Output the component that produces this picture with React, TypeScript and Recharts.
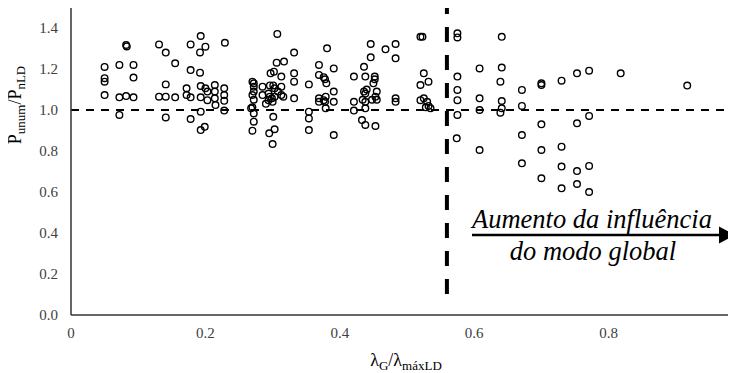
import React from "react";
import {
  ScatterChart,
  Scatter,
  XAxis,
  YAxis,
  ReferenceLine,
  Customized,
} from "recharts";

// λG/λmáxLD for each specimen
const lambdaRatio = [
  0.05, 0.05, 0.05, 0.05, 0.072, 0.082, 0.083, 0.072, 0.072, 0.082,
  0.093, 0.093, 0.093, 0.131, 0.141, 0.155, 0.141, 0.131, 0.141, 0.155,
  0.141, 0.172, 0.172, 0.178, 0.178, 0.193, 0.2, 0.192, 0.192, 0.193,
  0.178, 0.193, 0.2, 0.203, 0.214, 0.214, 0.214, 0.215, 0.203, 0.193,
  0.178, 0.193, 0.199, 0.228, 0.228, 0.228, 0.228, 0.229, 0.27, 0.272,
  0.27, 0.272, 0.27, 0.268, 0.272, 0.27, 0.272, 0.272, 0.272, 0.285,
  0.285, 0.307, 0.297, 0.302, 0.306, 0.317, 0.313, 0.296, 0.301, 0.303,
  0.308, 0.313, 0.313, 0.316, 0.294, 0.296, 0.299, 0.303, 0.294, 0.301,
  0.295, 0.303, 0.3, 0.29, 0.3, 0.332, 0.332, 0.332, 0.332, 0.354,
  0.354, 0.354, 0.354, 0.369, 0.381, 0.369, 0.376, 0.378, 0.38, 0.391,
  0.391, 0.369, 0.376, 0.379, 0.378, 0.369, 0.391, 0.379, 0.391, 0.421,
  0.436, 0.446, 0.446, 0.438, 0.452, 0.452, 0.45, 0.436, 0.44, 0.438,
  0.434, 0.438, 0.448, 0.455, 0.455, 0.453, 0.421, 0.421, 0.438, 0.433,
  0.438, 0.453, 0.468, 0.483, 0.483, 0.483, 0.483, 0.52, 0.523, 0.525,
  0.532, 0.52, 0.52, 0.525, 0.53, 0.532, 0.528, 0.535, 0.575, 0.575,
  0.575, 0.575, 0.575, 0.575, 0.574, 0.641, 0.608, 0.608, 0.608, 0.608,
  0.641, 0.639, 0.641, 0.641, 0.639, 0.671, 0.671, 0.671, 0.671, 0.7,
  0.7, 0.7, 0.7, 0.7, 0.73, 0.73, 0.73, 0.73, 0.753, 0.753,
  0.753, 0.753, 0.771, 0.771, 0.771, 0.771, 0.818, 0.917,
];

// Pu,num/Pn,LD for each specimen
const strengthRatio = [
  1.21, 1.155, 1.138, 1.073, 1.22, 1.317, 1.31, 1.062, 0.976, 1.068,
  1.22, 1.158, 1.062, 1.32, 1.28, 1.228, 1.125, 1.065, 1.065, 1.062,
  0.964, 1.106, 1.073, 1.32, 1.195, 1.361, 1.309, 1.281, 1.182, 1.117,
  1.062, 1.062, 1.106, 1.09, 1.122, 1.09, 1.057, 1.024, 1.048, 0.992,
  0.956, 0.902, 0.918, 1.106, 1.073, 1.045, 0.997, 1.328, 1.138, 1.13,
  1.073, 1.05, 1.013, 1.008, 0.943, 0.899, 1.114, 1.09, 0.983, 1.114,
  1.073, 1.371, 1.179, 1.187, 1.231, 1.236, 1.163, 1.12, 1.12, 1.106,
  1.09, 1.114, 1.073, 1.065, 1.08, 1.065, 1.057, 1.065, 1.048, 0.967,
  0.886, 0.906, 0.834, 1.03, 1.04, 1.28, 1.179, 1.138, 1.057, 1.125,
  0.992, 0.959, 0.902, 1.22, 1.301, 1.171, 1.16, 1.15, 1.13, 1.203,
  1.09, 1.057, 1.048, 1.065, 1.04, 1.04, 1.04, 1.008, 0.878, 1.163,
  1.211, 1.322, 1.257, 1.163, 1.163, 1.15, 1.13, 1.09, 1.1, 1.08,
  1.05, 1.04, 1.05, 1.09, 1.05, 1.065, 1.04, 0.997, 1.008, 0.951,
  0.927, 0.922, 1.296, 1.322, 1.252, 1.057, 1.04, 1.357, 1.357, 1.179,
  1.138, 1.122, 1.048, 1.057, 1.04, 1.02, 1.013, 1.008, 1.374, 1.354,
  1.163, 1.098, 1.048, 0.976, 0.862, 1.357, 1.203, 1.057, 1.0, 0.805,
  1.207, 1.138, 1.044, 1.008, 0.987, 1.098, 1.02, 0.878, 0.74, 1.13,
  1.122, 0.93, 0.805, 0.667, 1.143, 0.821, 0.724, 0.618, 1.179, 0.935,
  0.702, 0.639, 1.192, 0.971, 0.727, 0.6, 1.179, 1.119,
];

const xTicks = [0, 0.2, 0.4, 0.6, 0.8];
const yTicks = [0, 0.2, 0.4, 0.6, 0.8, 1.0, 1.2, 1.4];
const limitX = 0.5594;

const points = lambdaRatio.map((x, i) => ({ x, y: strengthRatio[i] }));

const serif = "Liberation Serif";
const tickStyle = { fontFamily: serif, fontSize: 15, fill: "#404040" };

const OpenCircle = (props: any) => {
  const { cx, cy } = props;
  return <circle cx={cx} cy={cy} r={3.3} fill="none" stroke="#000" strokeWidth={1.4} />;
};

const Annotations = () => (
  <g style={{ fontFamily: serif }}>
    <text transform="translate(21,105) rotate(-90)" textAnchor="middle" fontSize={18} fill="#000">
      P<tspan fontSize={13} dy={4}>unum</tspan>
      <tspan dy={-4}>/P</tspan>
      <tspan fontSize={13} dy={4}>nLD</tspan>
    </text>
    <text x={406} y={366} textAnchor="middle" fontSize={18} fill="#000">
      λ<tspan fontSize={13} dy={4}>G</tspan>
      <tspan dy={-4}>/λ</tspan>
      <tspan fontSize={13} dy={4}>máxLD</tspan>
    </text>
    <text x={592} y={228} textAnchor="middle" fontSize={26.5} fontStyle="italic" fill="#000">
      Aumento da influência
    </text>
    <text x={593} y={260} textAnchor="middle" fontSize={26.5} fontStyle="italic" fill="#000">
      do modo global
    </text>
    <line x1={472} y1={235} x2={722} y2={235} stroke="#000" strokeWidth={2.7} />
    <polygon points="719,226.5 735,235 719,243.5" fill="#000" />
  </g>
);

const App = () => {
  return (
    <div
      style={{
        margin: "-8px 0 0 -8px",
        width: 736,
        height: 373,
        overflow: "hidden",
        fontFamily: serif,
      }}
    >
      <ScatterChart
        width={760}
        height={373}
        margin={{ top: 7.5, right: 17, left: 1, bottom: 28 }}
        style={{ fontFamily: serif }}
      >
        <XAxis
          type="number"
          dataKey="x"
          domain={[0, 1]}
          ticks={xTicks}
          tickFormatter={(v: number) => (v === 0 ? "0" : v.toFixed(1))}
          tickLine={false}
          tickSize={0}
          tickMargin={12}
          height={30}
          stroke="#333"
          strokeWidth={1.5}
          tick={tickStyle}
          allowDataOverflow
        />
        <YAxis
          type="number"
          dataKey="y"
          domain={[0, 1.5]}
          ticks={yTicks}
          tickFormatter={(v: number) => v.toFixed(1)}
          tickLine={false}
          tickSize={0}
          tickMargin={13}
          width={70}
          stroke="#333"
          strokeWidth={1.5}
          tick={tickStyle}
          allowDataOverflow
        />
        <ReferenceLine y={1} stroke="#000" strokeWidth={2} strokeDasharray="8 7" />
        <ReferenceLine
          segment={[
            { x: limitX, y: 1.5 },
            { x: limitX, y: 0.1 },
          ]}
          stroke="#000"
          strokeWidth={4}
          strokeDasharray="15 13"
          strokeDashoffset={8.5}
        />
        <Scatter data={points} shape={<OpenCircle />} isAnimationActive={false} />
        <Customized component={Annotations} />
      </ScatterChart>
    </div>
  );
};

export default App;
